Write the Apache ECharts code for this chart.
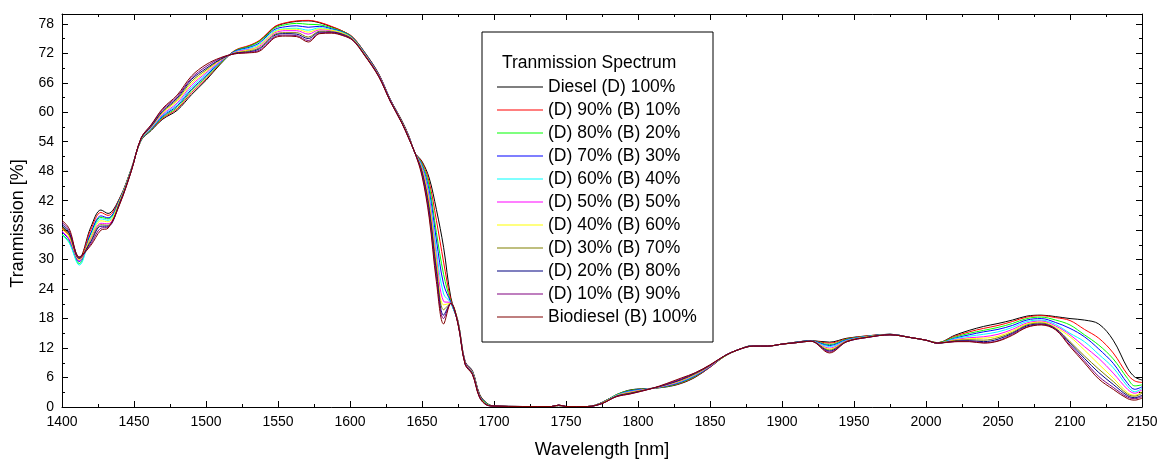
<!DOCTYPE html>
<html>
<head>
<meta charset="utf-8">
<script src="https://cdn.jsdelivr.net/npm/echarts@6/dist/echarts.min.js"></script>
<style>
  html, body { margin: 0; padding: 0; background: #fff; }
  #chart { width: 1171px; height: 463px; }
</style>
</head>
<body>
<div id="chart"></div>
<script>
// wavelength samples [nm]
var wavelength = [1400, 1405, 1412, 1420, 1427, 1432, 1440, 1448, 1455, 1462, 1470, 1480, 1490, 1500, 1510, 1520, 1530, 1537, 1543, 1548, 1555, 1563, 1571, 1579, 1587, 1595, 1602, 1610, 1620, 1628, 1636, 1641, 1645, 1650, 1655, 1660, 1665, 1670, 1675, 1680, 1685, 1690, 1695, 1700, 1720, 1740, 1745, 1750, 1765, 1775, 1785, 1795, 1810, 1820, 1830, 1840, 1850, 1860, 1870, 1880, 1890, 1900, 1910, 1920, 1933, 1945, 1960, 1975, 1990, 2000, 2008, 2020, 2030, 2040, 2050, 2060, 2070, 2080, 2090, 2100, 2110, 2120, 2130, 2140, 2145, 2150];

// transmission [%] per blend
var diesel100 = [36.8, 35.3, 30.4, 36.6, 40.1, 39.4, 42.5, 48.4, 54.3, 56.3, 58.6, 60.4, 63.6, 66.5, 69.8, 72.5, 73.5, 74.5, 76.1, 77.4, 78.1, 78.5, 78.6, 78.2, 77.4, 76.5, 75.2, 72.3, 67.8, 62.6, 58.3, 55.1, 51.8, 50.0, 46.6, 40.2, 32.5, 22.3, 17.5, 9.2, 7.4, 2.6, 0.8, 0.2, 0.1, 0.1, 0.3, 0.1, 0.1, 0.9, 2.5, 3.5, 3.8, 4.1, 4.8, 6.1, 8.1, 10.3, 11.7, 12.5, 12.4, 12.8, 13.2, 13.5, 13.2, 14.0, 14.5, 14.8, 14.1, 13.6, 13.1, 14.6, 15.6, 16.4, 17.0, 17.7, 18.5, 18.7, 18.4, 18.0, 17.7, 16.9, 13.6, 7.9, 6.1, 5.5];
var d90b10 = [36.4, 34.9, 30.2, 36.1, 39.6, 39.0, 42.4, 48.3, 54.4, 56.4, 58.8, 60.7, 64.0, 66.8, 69.9, 72.6, 73.6, 74.6, 76.2, 77.5, 78.2, 78.6, 78.7, 78.3, 77.5, 76.5, 75.3, 72.2, 67.7, 62.6, 58.2, 55.0, 51.8, 49.8, 45.8, 38.0, 29.5, 21.8, 17.4, 9.1, 7.3, 2.5, 0.7, 0.2, 0.1, 0.1, 0.3, 0.1, 0.1, 0.9, 2.5, 3.4, 3.8, 4.2, 4.9, 6.2, 8.1, 10.3, 11.7, 12.5, 12.4, 12.8, 13.2, 13.5, 13.0, 13.9, 14.5, 14.8, 14.1, 13.6, 13.1, 14.4, 15.3, 16.0, 16.6, 17.4, 18.3, 18.6, 18.2, 17.6, 15.8, 14.0, 11.0, 6.6, 5.3, 5.0];
var d80b20 = [35.2, 33.6, 29.2, 35.3, 38.6, 38.3, 42.2, 48.3, 54.4, 56.5, 59.0, 61.0, 64.4, 67.1, 70.0, 72.5, 73.4, 74.4, 75.9, 77.2, 77.8, 78.1, 77.9, 77.8, 77.2, 76.4, 75.2, 72.1, 67.6, 62.5, 58.1, 54.9, 51.8, 49.5, 45.0, 35.5, 27.0, 21.4, 17.3, 9.0, 7.2, 2.4, 0.7, 0.2, 0.1, 0.1, 0.3, 0.1, 0.1, 0.9, 2.5, 3.4, 3.8, 4.2, 5.0, 6.3, 8.2, 10.3, 11.7, 12.5, 12.4, 12.8, 13.2, 13.5, 12.7, 13.8, 14.4, 14.8, 14.1, 13.6, 13.1, 14.2, 15.0, 15.6, 16.2, 17.0, 18.0, 18.3, 17.7, 16.7, 14.7, 12.6, 9.8, 5.8, 4.3, 4.5];
var d70b30 = [35.6, 34.0, 29.6, 35.4, 38.9, 38.5, 42.2, 48.2, 54.5, 56.6, 59.2, 61.3, 64.7, 67.4, 70.2, 72.4, 73.2, 74.1, 75.7, 76.9, 77.4, 77.6, 77.3, 77.5, 77.0, 76.3, 75.1, 72.1, 67.6, 62.5, 58.1, 54.9, 51.8, 49.2, 44.0, 34.0, 25.0, 21.3, 17.2, 9.0, 7.2, 2.3, 0.6, 0.2, 0.1, 0.1, 0.3, 0.1, 0.1, 0.9, 2.4, 3.3, 3.8, 4.3, 5.1, 6.4, 8.2, 10.4, 11.7, 12.5, 12.4, 12.8, 13.2, 13.5, 12.5, 13.7, 14.4, 14.8, 14.1, 13.6, 13.0, 14.0, 14.7, 15.3, 15.8, 16.6, 17.7, 18.0, 17.2, 16.0, 14.3, 11.8, 8.9, 4.8, 3.6, 4.1];
var d60b40 = [35.0, 33.4, 28.9, 34.8, 38.3, 38.0, 42.0, 48.2, 54.5, 56.7, 59.4, 61.6, 65.1, 67.7, 70.3, 72.3, 73.0, 73.8, 75.4, 76.6, 77.0, 77.1, 76.7, 77.2, 76.8, 76.2, 75.0, 72.0, 67.5, 62.4, 58.0, 54.8, 51.8, 49.0, 43.2, 32.0, 23.0, 21.2, 17.2, 8.9, 7.1, 2.2, 0.6, 0.2, 0.1, 0.1, 0.3, 0.1, 0.1, 0.8, 2.4, 3.2, 3.8, 4.4, 5.2, 6.5, 8.3, 10.4, 11.7, 12.4, 12.4, 12.8, 13.1, 13.4, 12.3, 13.6, 14.4, 14.7, 14.1, 13.6, 13.0, 13.9, 14.4, 14.8, 15.3, 16.2, 17.4, 17.7, 16.8, 15.0, 13.3, 10.7, 8.0, 4.2, 3.1, 3.8];
var d50b50 = [35.8, 34.2, 29.8, 34.4, 37.4, 37.3, 41.8, 48.1, 54.6, 56.9, 59.6, 61.9, 65.5, 68.0, 70.4, 72.2, 72.8, 73.4, 75.0, 76.2, 76.6, 76.6, 75.9, 76.8, 76.6, 76.0, 74.9, 71.9, 67.5, 62.4, 58.0, 54.8, 51.8, 48.7, 42.4, 30.5, 21.5, 21.2, 17.1, 8.9, 7.0, 2.2, 0.5, 0.2, 0.1, 0.1, 0.3, 0.1, 0.1, 0.8, 2.3, 3.1, 3.8, 4.4, 5.3, 6.6, 8.3, 10.4, 11.7, 12.4, 12.4, 12.8, 13.1, 13.4, 12.0, 13.5, 14.3, 14.7, 14.1, 13.6, 13.0, 13.7, 14.1, 14.3, 14.8, 15.8, 17.1, 17.5, 16.5, 14.7, 12.3, 9.9, 6.9, 3.6, 2.8, 3.5];
var d40b60 = [36.2, 34.6, 30.0, 34.6, 37.9, 37.7, 41.9, 48.1, 54.6, 57.0, 59.9, 62.3, 65.9, 68.3, 70.6, 72.1, 72.7, 73.6, 75.2, 76.4, 76.9, 76.9, 76.3, 77.0, 76.7, 76.1, 74.9, 71.9, 67.4, 62.3, 58.0, 54.7, 51.8, 48.4, 41.6, 29.5, 20.8, 21.1, 17.1, 8.8, 7.0, 2.1, 0.5, 0.2, 0.1, 0.1, 0.3, 0.1, 0.1, 0.8, 2.3, 3.0, 3.8, 4.5, 5.4, 6.7, 8.4, 10.4, 11.7, 12.4, 12.4, 12.8, 13.1, 13.4, 11.8, 13.4, 14.3, 14.7, 14.1, 13.6, 13.0, 13.6, 13.9, 14.0, 14.4, 15.5, 16.9, 17.3, 16.2, 14.3, 11.6, 8.7, 5.9, 2.9, 2.4, 3.1];
var d30b70 = [36.6, 35.0, 30.2, 33.9, 37.1, 37.0, 41.6, 48.0, 54.7, 57.1, 60.1, 62.6, 66.3, 68.6, 70.7, 72.0, 72.5, 73.1, 74.7, 75.9, 76.2, 76.2, 75.3, 76.5, 76.4, 75.9, 74.8, 71.8, 67.4, 62.3, 57.9, 54.7, 51.8, 48.1, 40.8, 28.5, 19.8, 21.1, 17.0, 8.8, 6.9, 2.1, 0.5, 0.2, 0.1, 0.1, 0.4, 0.1, 0.1, 0.8, 2.2, 2.9, 3.8, 4.6, 5.5, 6.8, 8.4, 10.4, 11.7, 12.4, 12.4, 12.8, 13.1, 13.4, 11.6, 13.4, 14.3, 14.7, 14.1, 13.6, 13.0, 13.5, 13.7, 13.6, 14.1, 15.2, 16.7, 17.1, 16.0, 13.3, 10.4, 7.7, 5.2, 2.6, 2.2, 2.8];
var d20b80 = [37.2, 35.5, 30.3, 33.6, 36.8, 36.8, 41.5, 48.0, 54.7, 57.2, 60.3, 62.9, 66.7, 68.9, 70.8, 72.0, 72.3, 72.9, 74.4, 75.7, 76.0, 75.9, 75.0, 76.3, 76.3, 75.8, 74.7, 71.7, 67.3, 62.3, 57.9, 54.6, 51.8, 47.8, 40.0, 27.5, 18.7, 21.1, 17.0, 8.7, 6.8, 2.0, 0.4, 0.2, 0.1, 0.1, 0.4, 0.1, 0.1, 0.7, 2.2, 2.8, 3.8, 4.6, 5.6, 6.9, 8.5, 10.4, 11.7, 12.4, 12.4, 12.8, 13.1, 13.4, 11.4, 13.3, 14.2, 14.7, 14.1, 13.6, 13.0, 13.4, 13.5, 13.3, 13.8, 15.0, 16.5, 16.9, 15.9, 13.0, 9.9, 7.0, 4.6, 2.3, 1.9, 2.4];
var d10b90 = [37.6, 35.9, 30.4, 33.2, 36.4, 36.6, 41.3, 47.9, 54.8, 57.4, 60.6, 63.2, 67.0, 69.3, 71.0, 71.9, 72.2, 72.6, 74.1, 75.4, 75.7, 75.6, 74.6, 76.1, 76.2, 75.7, 74.7, 71.7, 67.3, 62.2, 57.8, 54.6, 51.8, 47.4, 39.2, 26.5, 18.0, 21.1, 16.9, 8.7, 6.7, 2.0, 0.4, 0.2, 0.1, 0.1, 0.4, 0.1, 0.1, 0.7, 2.1, 2.7, 3.8, 4.7, 5.7, 7.0, 8.5, 10.4, 11.7, 12.4, 12.4, 12.8, 13.1, 13.4, 11.2, 13.3, 14.2, 14.7, 14.1, 13.6, 13.0, 13.3, 13.4, 13.1, 13.5, 14.8, 16.3, 16.8, 15.8, 12.6, 9.4, 6.2, 4.0, 2.0, 1.7, 2.1];
var biodiesel100 = [38.0, 36.3, 30.6, 32.9, 36.0, 36.4, 41.2, 47.9, 54.8, 57.5, 60.8, 63.5, 67.4, 69.7, 71.1, 71.9, 72.1, 72.4, 73.9, 75.2, 75.5, 75.4, 74.3, 76.0, 76.1, 75.6, 74.6, 71.6, 67.2, 62.2, 57.8, 54.5, 51.8, 47.0, 38.5, 25.5, 16.9, 21.1, 16.9, 8.6, 6.6, 1.9, 0.4, 0.2, 0.1, 0.1, 0.4, 0.1, 0.1, 0.7, 2.1, 2.7, 3.8, 4.8, 5.9, 7.0, 8.6, 10.4, 11.7, 12.4, 12.4, 12.8, 13.1, 13.4, 11.0, 13.3, 14.2, 14.7, 14.1, 13.6, 13.0, 13.3, 13.3, 13.0, 13.4, 14.6, 16.2, 16.7, 15.7, 12.3, 9.0, 5.7, 3.6, 1.7, 1.4, 1.8];

var seriesNames = ['Diesel (D) 100%', '(D) 90% (B) 10%', '(D) 80% (B) 20%', '(D) 70% (B) 30%', '(D) 60% (B) 40%', '(D) 50% (B) 50%', '(D) 40% (B) 60%', '(D) 30% (B) 70%', '(D) 20% (B) 80%', '(D) 10% (B) 90%', 'Biodiesel (B) 100%'];
var seriesValues = [diesel100, d90b10, d80b20, d70b30, d60b40, d50b50, d40b60, d30b70, d20b80, d10b90, biodiesel100];
var colors = ['#000000', '#ff0000', '#00ff00', '#0000ff', '#00ffff', '#ff00ff', '#ffff00', '#808000', '#000080', '#800080', '#800000'];

var font = 'Liberation Sans, Arial, sans-serif';

var series = [];
for (var i = 0; i < seriesNames.length; i++) {
  series.push({
    name: seriesNames[i],
    type: 'line',
    xAxisIndex: 0,
    yAxisIndex: 0,
    smooth: 0.35,
    symbol: 'none',
    clip: true,
    lineStyle: { width: 1, color: colors[i] },
    itemStyle: { color: colors[i] },
    data: wavelength.map(function (w, k) { return [w, seriesValues[i][k]]; })
  });
}

function frameAxis(base) {
  return Object.assign({
    type: 'value',
    axisLine: { show: true, onZero: false, lineStyle: { color: '#000', width: 1 } },
    axisTick: { show: true, inside: true, length: 6, lineStyle: { color: '#000' } },
    minorTick: { show: true, splitNumber: 2, length: 3, lineStyle: { color: '#000' } },
    splitLine: { show: false },
    axisLabel: { show: false }
  }, base);
}

var chart = echarts.init(document.getElementById('chart'), null, { renderer: 'canvas' });
chart.setOption({
  animation: false,
  backgroundColor: '#fff',
  textStyle: { fontFamily: font },
  grid: { left: 62, right: 29, top: 14, bottom: 56, containLabel: false, outerBoundsMode: 'none' },
  xAxis: [
    frameAxis({
      position: 'bottom', min: 1400, max: 2150, interval: 50,
      name: 'Wavelength [nm]', nameLocation: 'middle', nameGap: 34,
      nameTextStyle: { fontSize: 18, color: '#000', fontFamily: font },
      axisLabel: {
        show: true, margin: 8, fontSize: 14, color: '#000', fontFamily: font,
        formatter: function (v) { return String(v); }
      }
    }),
    frameAxis({ position: 'top', min: 1400, max: 2150, interval: 50 })
  ],
  yAxis: [
    frameAxis({
      position: 'left', min: 0, max: 80, interval: 6,
      name: 'Tranmission [%]', nameLocation: 'middle', nameGap: 33,
      nameTextStyle: { fontSize: 18, color: '#000', fontFamily: font, padding: [0, 26, 0, 0] },
      axisLabel: { show: true, margin: 8, fontSize: 14, color: '#000', fontFamily: font, showMaxLabel: false }
    }),
    frameAxis({ position: 'right', min: 0, max: 80, interval: 6 })
  ],
  legend: {
    orient: 'vertical',
    left: 492,
    top: 73,
    z: 10,
    icon: 'rect',
    itemWidth: 46,
    itemHeight: 1,
    itemGap: 5,
    selectedMode: false,
    data: seriesNames,
    textStyle: { fontSize: 17.5, lineHeight: 18, color: '#000', fontFamily: font }
  },
  graphic: [
    {
      type: 'rect', z: 3,
      shape: { x: 482, y: 32, width: 231, height: 310 },
      style: { fill: '#fff', stroke: '#000', lineWidth: 1 }
    },
    {
      type: 'text', z: 11, left: 502, top: 54,
      style: { text: 'Tranmission Spectrum', font: '17.5px ' + font, fill: '#000' }
    }
  ],
  series: series
});
</script>
</body>
</html>
